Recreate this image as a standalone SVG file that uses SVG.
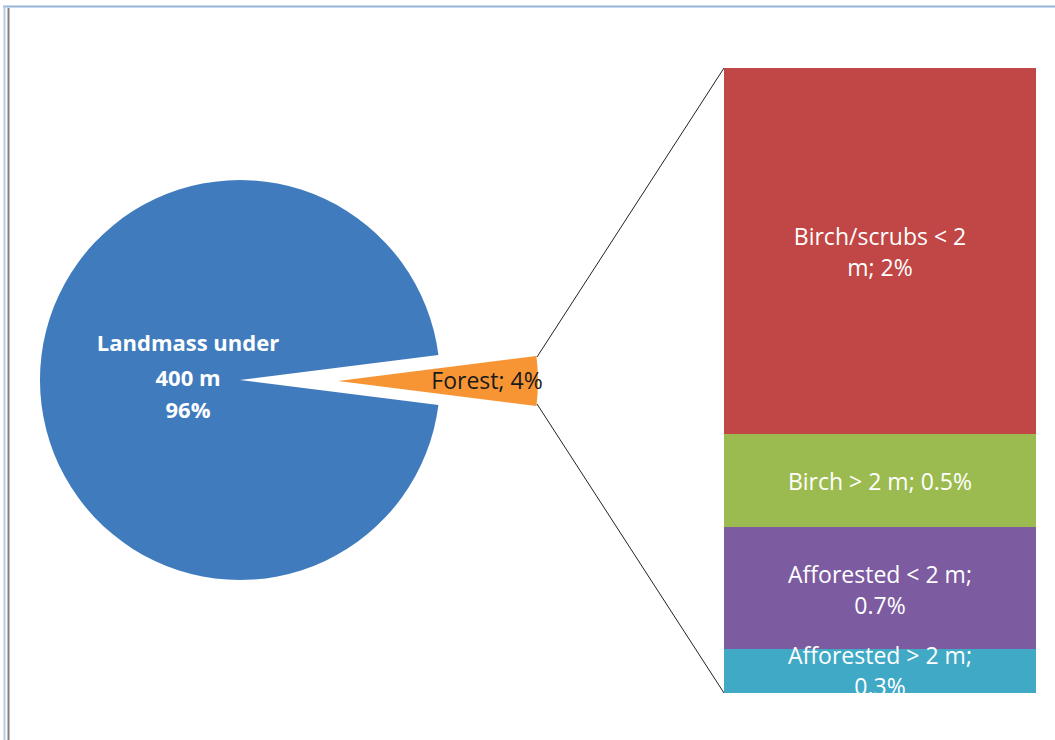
<svg xmlns="http://www.w3.org/2000/svg" width="1055" height="740" viewBox="0 0 1055 740">
<style>
.lbl{font-family:"Open Sans","Liberation Sans",sans-serif;fill:#fff;text-anchor:middle;font-size:23px}
.bold{font-weight:bold;font-size:22px}
.conn{stroke:#222;stroke-width:1;fill:none}
</style>
<defs>
<clipPath id="tealClip"><rect x="724" y="600" width="312" height="93"/></clipPath>
</defs>
<rect width="1055" height="740" fill="#fff"/>
<g id="frame">
<line x1="3" y1="6.5" x2="1055" y2="6.5" stroke="#95b3d7" stroke-width="2"/>
<line x1="4.5" y1="6" x2="4.5" y2="740" stroke="#b8cce4" stroke-width="2"/>
<line x1="8.5" y1="8" x2="8.5" y2="740" stroke="#808080" stroke-width="2"/>
</g>
<g id="pie-main">
<path d="M240,380 L438.4,355 A200,200 0 1 0 438.4,405 Z" fill="#407cbd"/>
<text class="lbl bold" x="188" y="351">Landmass under</text>
<text class="lbl bold" x="188" y="386">400 m</text>
<text class="lbl bold" x="188" y="418">96%</text>
</g>
<g id="pie-forest">
<path d="M338,381 L536.4,356 A200,200 0 0 1 536.4,406 Z" fill="#f79535"/>
<text x="487" y="389" font-family="Open Sans, Liberation Sans, sans-serif" font-size="23" fill="#1a1a1a" text-anchor="middle">Forest; 4%</text>
</g>
<g id="connectors">
<line class="conn" x1="537" y1="357" x2="724" y2="68"/>
<line class="conn" x1="537" y1="404" x2="724" y2="693"/>
</g>
<g id="bar-birch-scrubs">
<rect x="724" y="68" width="312" height="366" fill="#c14646"/>
<text class="lbl" x="880" y="245">Birch/scrubs &lt; 2</text>
<text class="lbl" x="880" y="276">m; 2%</text>
</g>
<g id="bar-birch">
<rect x="724" y="434" width="312" height="93" fill="#9bbb50"/>
<text class="lbl" x="880" y="490">Birch &gt; 2 m; 0.5%</text>
</g>
<g id="bar-afforested-low">
<rect x="724" y="527" width="312" height="122" fill="#7d5ba0"/>
<text class="lbl" x="880" y="583">Afforested &lt; 2 m;</text>
<text class="lbl" x="880" y="614">0.7%</text>
</g>
<g id="bar-afforested-high">
<rect x="724" y="649" width="312" height="44" fill="#3fa9c6"/>
<g clip-path="url(#tealClip)">
<text class="lbl" x="880" y="664">Afforested &gt; 2 m;</text>
<text class="lbl" x="880" y="695">0.3%</text>
</g>
</g>
</svg>
